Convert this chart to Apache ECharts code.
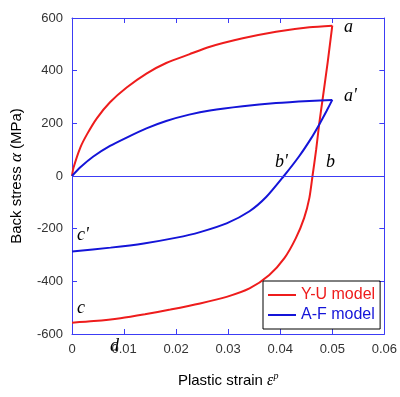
<!DOCTYPE html>
<html>
<head>
<meta charset="utf-8">
<script src="https://cdn.jsdelivr.net/npm/echarts@6/dist/echarts.min.js"></script>
<style>
  html, body { margin: 0; padding: 0; background: #fff; }
  #main { width: 400px; height: 397px; }
</style>
</head>
<body>
<div id="main"></div>
<script>
// Y-U model: loading 0 -> a, then reverse a -> b -> c
var yuLoadStrain = [0, 0.0003, 0.0016, 0.0029, 0.0048, 0.0073, 0.0105, 0.0143, 0.0181, 0.0225, 0.0265, 0.0328, 0.0392, 0.0456, 0.05];
var yuLoadStress = [0, 32, 108, 159, 220, 280, 336, 389, 429, 462, 491, 523, 548, 565, 571];
var yuBackStrain = [0.05, 0.0491, 0.0482, 0.0475, 0.0469, 0.0462, 0.0456, 0.0446, 0.0430, 0.0408, 0.0379, 0.0341, 0.0297, 0.0246, 0.0189, 0.0140, 0.0093, 0.0042, 0];
var yuBackStress = [571, 430, 300, 200, 100, 0, -83, -159, -236, -312, -376, -427, -459, -484, -507, -525, -540, -551, -557];

// A-F model: loading 0 -> a', then reverse a' -> b' -> c'
var afLoadStrain = [0, 0.0016, 0.0041, 0.0073, 0.0105, 0.0143, 0.0181, 0.0225, 0.0265, 0.0328, 0.0392, 0.0456, 0.05];
var afLoadStress = [0, 33, 74, 114, 146, 181, 209, 233, 249, 265, 277, 285, 289];
var afBackStrain = [0.05, 0.0489, 0.0475, 0.0459, 0.0436, 0.0407, 0.0373, 0.0341, 0.0297, 0.0246, 0.0201, 0.0138, 0.0074, 0];
var afBackStress = [289, 247, 196, 142, 74, 0, -80, -134, -180, -213, -234, -256, -272, -287];

var xTicks = [0, 0.01, 0.02, 0.03, 0.04, 0.05, 0.06];
var yTicks = [-600, -400, -200, 0, 200, 400, 600];

var axisBlue = '#3c3cf5';
var red = '#ee1c1c';
var blue = '#1414d8';

function pairs(xs, ys) {
  var out = [];
  for (var i = 0; i < xs.length; i++) out.push([xs[i], ys[i]]);
  return out;
}

function curve(name, color, xs, ys) {
  return {
    name: name, type: 'line', symbol: 'none',
    smooth: 0.25,
    lineStyle: { color: color, width: 2 }, itemStyle: { color: color },
    data: pairs(xs, ys)
  };
}

var myChart = echarts.init(document.getElementById('main'));

var labelFont = { fontFamily: 'Liberation Serif', fontStyle: 'italic', fontSize: 18, fill: '#000' };
function note(txt, x, y) {
  return { type: 'text', left: x, top: y, style: Object.assign({ text: txt }, labelFont) };
}

var axisCommon = {
  axisLine: { onZero: false, lineStyle: { color: axisBlue, width: 1 } },
  axisTick: { inside: true, length: 5, lineStyle: { color: axisBlue } },
  splitLine: { show: false }
};

var series = [
  curve('Y-U model', red, yuLoadStrain, yuLoadStress),
  curve('Y-U model', red, yuBackStrain, yuBackStress),
  curve('A-F model', blue, afLoadStrain, afLoadStress),
  curve('A-F model', blue, afBackStrain, afBackStress)
];
series[0].markLine = {
  silent: true, symbol: 'none', label: { show: false },
  lineStyle: { color: axisBlue, width: 1, type: 'solid' },
  data: [{ yAxis: 0 }]
};
series[0].z = series[1].z = 3;

var option = {
  backgroundColor: '#fff',
  animation: false,
  grid: { left: 71, top: 18, width: 315, height: 316 },
  legend: {
    orient: 'vertical',
    left: 263, top: 281,
    borderColor: '#000', borderWidth: 1,
    padding: [6, 5, 6, 5],
    icon: 'rect', itemWidth: 28, itemHeight: 2, itemGap: 4,
    textStyle: { fontFamily: 'Liberation Sans', fontSize: 16 },
    data: [
      { name: 'Y-U model', textStyle: { color: red } },
      { name: 'A-F model', textStyle: { color: blue } }
    ]
  },
  xAxis: [Object.assign({
    type: 'value', min: xTicks[0], max: xTicks[xTicks.length - 1], interval: 0.01,
    name: 'Plastic strain {i|ε}{s|p}', nameLocation: 'middle', nameGap: 37,
    nameTextStyle: {
      fontFamily: 'Liberation Sans', fontSize: 15, color: '#000',
      rich: {
        i: { fontFamily: 'Liberation Serif', fontStyle: 'italic', fontSize: 16, color: '#000' },
        s: { fontFamily: 'Liberation Serif', fontStyle: 'italic', fontSize: 10, color: '#000', verticalAlign: 'top', padding: [0, 0, 10, 0] }
      }
    },
    axisLabel: { color: '#333', fontFamily: 'Liberation Sans', fontSize: 13, margin: 9,
      formatter: function (v) { return v === 0 ? '0' : v.toFixed(2); } }
  }, axisCommon), Object.assign({
    type: 'value', position: 'top', min: xTicks[0], max: xTicks[xTicks.length - 1], interval: 0.01,
    axisLabel: { show: false }
  }, axisCommon)],
  yAxis: [Object.assign({
    type: 'value', min: yTicks[0], max: yTicks[yTicks.length - 1], interval: 200,
    name: 'Back stress {i|α} (MPa)', nameLocation: 'middle', nameGap: 47,
    nameTextStyle: {
      fontFamily: 'Liberation Sans', fontSize: 15, color: '#000',
      rich: { i: { fontFamily: 'Liberation Serif', fontStyle: 'italic', fontSize: 17, color: '#000' } }
    },
    axisLabel: { color: '#333', fontFamily: 'Liberation Sans', fontSize: 13, margin: 9 }
  }, axisCommon), Object.assign({
    type: 'value', position: 'right', min: yTicks[0], max: yTicks[yTicks.length - 1], interval: 200,
    axisLabel: { show: false }
  }, axisCommon)],
  series: series,
  graphic: [
    note('a', 344, 18),
    note("a'", 344, 87),
    note("b'", 275, 153),
    note('b', 326, 153),
    note("c'", 77, 226),
    note('c', 77, 299),
    note('d', 110, 337)
  ]
};

myChart.setOption(option);
</script>
</body>
</html>
